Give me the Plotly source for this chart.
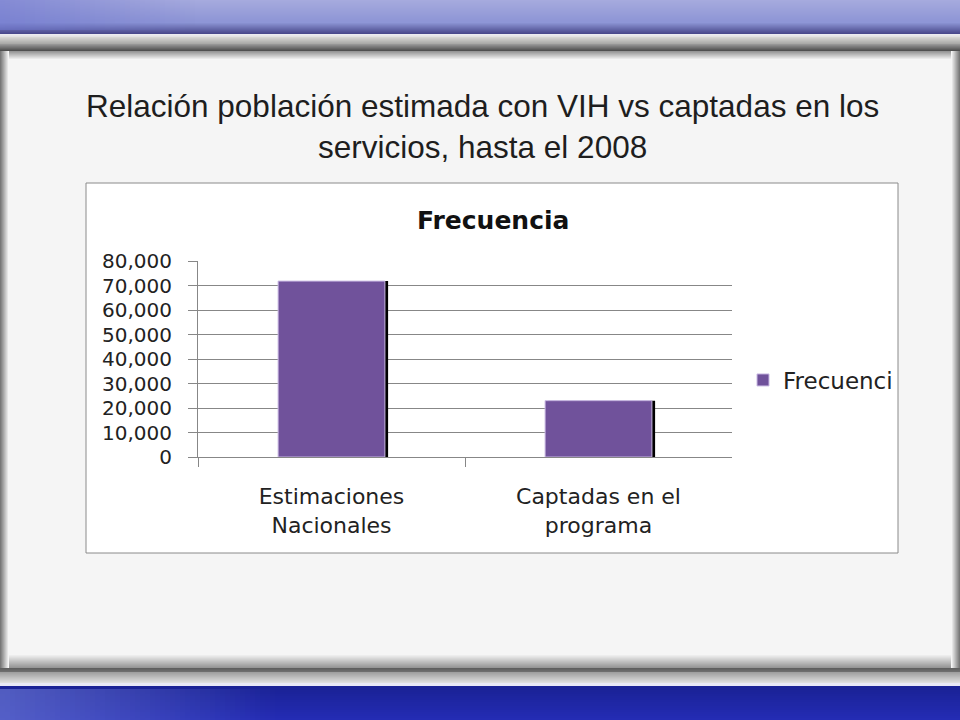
import plotly.graph_objects as go

W, H = 960, 720

# chart data
categories = ["Estimaciones<br>Nacionales", "Captadas en el<br>programa"]
frecuencia = [71800, 23000]
y_ticks = [0, 10000, 20000, 30000, 40000, 50000, 60000, 70000, 80000]
series_name = "Frecuenci"  # clipped by the chart border in the original


def px_x(x):
    return x / W


def px_y(y):
    return 1 - y / H


def mix(c0, c1, t):
    return "rgba(%d,%d,%d,%.3f)" % tuple(a + (b - a) * t for a, b in zip(c0, c1))


def vband(shapes, y0, y1, c0, c1, steps=12, x0=0, x1=W):
    """vertical gradient made of thin stacked rectangles"""
    if len(c0) == 3:
        c0, c1 = c0 + (1,), c1 + (1,)
    h = (y1 - y0) / steps
    for i in range(steps):
        shapes.append(dict(type="rect", xref="paper", yref="paper", layer="below",
                           x0=px_x(x0), x1=px_x(x1),
                           y0=px_y(y0 + i * h), y1=px_y(y0 + (i + 1) * h + 0.6),
                           fillcolor=mix(c0, c1, i / max(steps - 1, 1)), line_width=0))


def hband(shapes, x0, x1, c0, c1, steps=12, y0=0, y1=H):
    if len(c0) == 3:
        c0, c1 = c0 + (1,), c1 + (1,)
    w = (x1 - x0) / steps
    for i in range(steps):
        shapes.append(dict(type="rect", xref="paper", yref="paper", layer="below",
                           x0=px_x(x0 + i * w), x1=px_x(x0 + (i + 1) * w),
                           y0=px_y(y0), y1=px_y(y1),
                           fillcolor=mix(c0, c1, i / max(steps - 1, 1)), line_width=0))


shapes = []
panel = (245, 245, 245)
# top blue band
vband(shapes, 0, 22, (166, 170, 222), (142, 150, 214), 22)
vband(shapes, 22, 34, (142, 150, 214), (74, 74, 140), 12)
hband(shapes, 0, 200, (110, 118, 206, 0.6), (110, 118, 206, 0), 40, 0, 30)
# light line + gray tube
vband(shapes, 34, 37, (236, 236, 240), (226, 226, 226), 3)
vband(shapes, 37, 44, (214, 214, 210), (170, 170, 168), 7)
vband(shapes, 44, 51, (150, 150, 150), (80, 80, 80), 7)
# slide panel
vband(shapes, 51, 668, panel, panel, 1)
vband(shapes, 51, 60, (150, 150, 150), panel, 9)
vband(shapes, 654, 668, panel, (150, 150, 150), 14)
hband(shapes, 0, 9, (120, 120, 120), panel, 9, 51, 668)
hband(shapes, 951, 960, panel, (120, 120, 120), 9, 51, 668)
# bottom gray tube
vband(shapes, 668, 672, (95, 95, 95), (110, 110, 110), 4)
vband(shapes, 672, 683, (160, 160, 160), (222, 222, 222), 11)
vband(shapes, 683, 686, (232, 232, 246), (232, 232, 246), 1)
# bottom blue band
vband(shapes, 686, 720, (26, 34, 150), (36, 44, 180), 17)
hband(shapes, 0, 280, (100, 112, 206, 0.75), (100, 112, 206, 0), 56, 689, 720)

# chart box
shapes.append(dict(type="rect", xref="paper", yref="paper", layer="below",
                   x0=px_x(86), x1=px_x(898), y0=px_y(183), y1=px_y(553),
                   fillcolor="white", line=dict(color="#8a8a8a", width=1)))

fig = go.Figure()
# black edge shadow to the right of each bar
fig.add_trace(go.Bar(x=categories, y=frecuencia, width=0.40, offset=-0.188,
                     marker=dict(color="black", line_width=0),
                     showlegend=False, hoverinfo="skip"))
fig.add_trace(go.Bar(x=categories, y=frecuencia, width=0.40, offset=-0.20,
                     name=series_name,
                     marker=dict(color="#70529b", line=dict(color="#c9b9e3", width=1))))

grid = "#878787"
fig.update_layout(
    width=W, height=H,
    margin=dict(l=0, r=0, t=0, b=0, autoexpand=False),
    paper_bgcolor="rgb(245,245,245)",
    plot_bgcolor="rgba(0,0,0,0)",
    barmode="overlay",
    shapes=shapes,
    showlegend=True,
    legend=dict(x=px_x(743), y=px_y(380), xanchor="left", yanchor="middle",
                bgcolor="rgba(0,0,0,0)",
                font=dict(family="DejaVu Sans", size=23, color="#222222")),
    xaxis=dict(domain=[px_x(198), px_x(732)], showgrid=False, automargin=False,
               tickson="boundaries", ticks="outside", ticklen=9, tickcolor=grid,
               showline=True, linecolor=grid, linewidth=1,
               tickfont=dict(family="DejaVu Sans", size=22, color="#222222"),
               ticklabelstandoff=20),
    yaxis=dict(domain=[px_y(457), px_y(261)], range=[0, 80000], automargin=False,
               tickvals=y_ticks, tickformat=",d",
               showgrid=True, gridcolor=grid, gridwidth=1,
               zeroline=False, showline=True, linecolor=grid, linewidth=1,
               ticks="outside", ticklen=9, tickcolor=grid,
               tickfont=dict(family="DejaVu Sans", size=20, color="#222222"),
               ticklabelstandoff=12),
    annotations=[
        dict(text="Relación población estimada con VIH vs captadas en los<br>servicios, hasta el 2008",
             xref="paper", yref="paper", x=px_x(482), y=px_y(86),
             xanchor="center", yanchor="top", showarrow=False,
             font=dict(family="Liberation Sans, Arial", size=31.5, color="#1e1e1e")),
        dict(text="<b>Frecuencia</b>", xref="paper", yref="paper",
             x=px_x(493), y=px_y(220), xanchor="center", yanchor="middle",
             showarrow=False,
             font=dict(family="DejaVu Sans", size=25, color="#111111")),
    ],
)

fig.write_html("out.html", config={"displayModeBar": False},
               post_script="document.body.style.margin='0';document.body.style.overflow='hidden';")
